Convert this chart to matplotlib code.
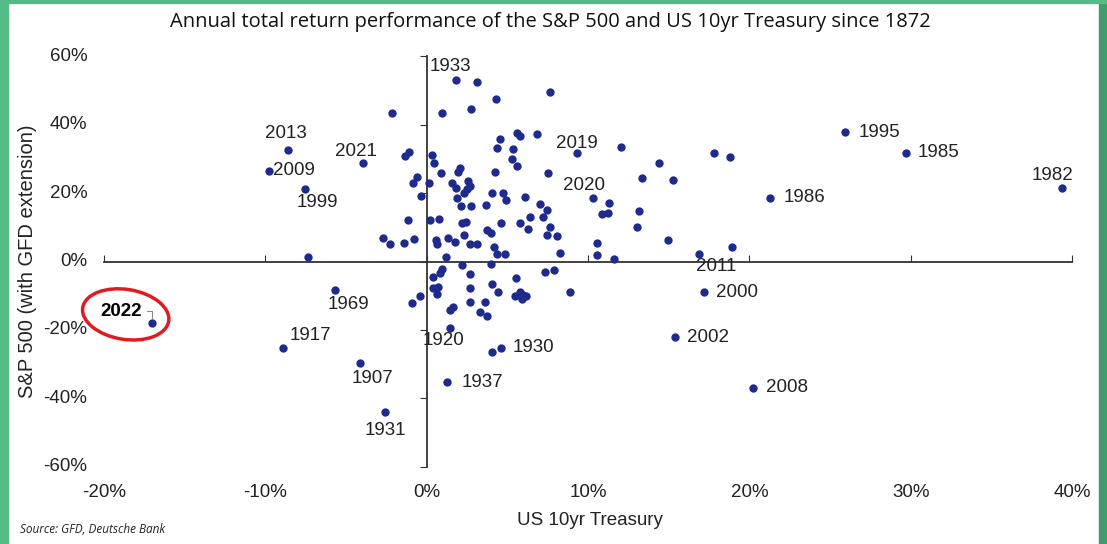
import matplotlib
matplotlib.use("Agg")
import matplotlib.pyplot as plt
from matplotlib import transforms
from matplotlib.patches import Ellipse, Rectangle

# labelled years: US 10yr Treasury total return (%) and S&P 500 total return (%)
years = ["1933", "2013", "2009", "1999", "2021", "2019", "2020", "1986", "1995",
         "1985", "1982", "2011", "2000", "2002", "2008", "2022", "1969", "1917",
         "1907", "1931", "1920", "1930", "1937"]
years_tsy = [1.80, -8.59, -9.80, -7.53, -3.96, 9.30, 10.33, 21.3, 25.96,
             29.69, 39.38, 16.85, 17.22, 15.40, 20.23, -17.04, -5.65, -8.93,
             -4.16, -2.61, 1.43, 4.58, 1.29]
years_spx = [53.1, 32.5, 26.5, 21.1, 28.9, 31.6, 18.5, 18.7, 37.8,
             31.8, 21.6, 2.2, -9.0, -22.2, -36.9, -18.1, -8.3, -25.4,
             -29.6, -43.9, -19.5, -25.2, -35.3]

# all the other years
other_tsy = [3.15, 7.64, 4.29, -2.13, 0.98, 2.78, 4.53, 5.61, 5.78, 6.81, 4.37, 5.36,
             -1.37, -1.10, 0.35, 5.32, 5.63, 0.43, 0.87, 1.97, 2.05, 4.22, 7.50,
             -0.85, -0.58, 0.12, -0.37, 1.57, 1.80, 2.57, 2.67, 2.50, 2.30, 1.88,
             2.16, 2.73, 4.08, 4.74, 4.91, 3.66, 6.11, 7.02, 7.43, 6.40, 7.19,
             -1.16, 0.19, 0.75, 2.19, 2.42, 4.58, 5.78, 6.29, 7.64, 3.75, 4.02,
             -2.71, -2.24, -1.43, -0.79, 0.60, 0.64, 1.32, 1.74, 2.32, 2.71, 3.12,
             4.18, 4.33, 4.84, 7.43, 8.06, 8.26, 1.22, -7.37,
             12.03, 17.83, 18.78, 14.43, 13.34, 15.30, 11.32, 10.85, 11.26, 13.15,
             13.02, 10.54, 14.99, 10.54, 11.63, 18.94,
             2.22, 4.02, 7.33, 7.90, 0.39, 0.81, 0.95, 2.71, 5.53, 0.39, 0.70, 0.64,
             2.67, 4.06, 4.43, 5.47, 5.78, 5.98, 6.15, 5.94, 8.88, -0.91, -0.43,
             2.67, 3.60, 1.43, 1.63, 3.29, 3.77, 4.08]
other_spx = [52.6, 49.6, 47.4, 43.5, 43.5, 44.6, 35.7, 37.5, 36.7, 37.3, 33.3, 32.9,
             30.8, 32.1, 31.1, 30.1, 27.9, 28.9, 25.8, 26.3, 27.3, 26.3, 25.8,
             22.9, 24.8, 23.0, 19.2, 23.0, 21.4, 23.6, 22.1, 21.1, 19.9, 18.5,
             16.2, 16.2, 19.9, 19.9, 18.0, 16.5, 18.8, 16.8, 15.1, 13.1, 12.9,
             12.1, 12.1, 12.4, 11.2, 11.5, 11.2, 11.3, 9.4, 10.0, 9.2, 8.2,
             6.8, 5.1, 5.3, 6.5, 6.3, 5.1, 7.0, 5.8, 7.7, 5.1, 5.0,
             4.3, 2.2, 2.2, 7.7, 7.5, 2.4, 1.4, 1.4,
             33.6, 31.8, 30.5, 28.7, 24.3, 23.8, 17.0, 13.8, 14.3, 14.8,
             10.2, 5.5, 6.3, 1.9, 0.6, 4.2,
             -1.0, -0.7, -3.0, -2.6, -4.4, -3.5, -2.3, -3.7, -4.9, -7.8, -7.4, -9.6,
             -7.8, -6.6, -8.8, -10.0, -8.8, -9.8, -10.1, -11.1, -8.8, -12.2, -10.1,
             -11.8, -11.8, -14.2, -13.4, -14.7, -15.9, -26.4]

x_ticks = [-20, -10, 0, 10, 20, 30, 40]
y_ticks = [-60, -40, -20, 0, 20, 40, 60]

# label placement: offset in pixels from the dot, horizontal alignment
label_pos = {
    "1933": (-26, 13, "left"), "2013": (-2, 17, "center"), "2009": (4, 0, "left"),
    "1999": (-9, -13, "left"), "2021": (-7, 11, "center"), "2019": (0, 10, "center"),
    "2020": (-9, 13, "center"), "1986": (13, 0, "left"), "1995": (13, 0, "left"),
    "1985": (12, 0, "left"), "1982": (-10, 12, "center"), "2011": (18, -13, "center"),
    "2000": (12, 0, "left"), "2002": (12, 0, "left"), "2008": (13, 0, "left"),
    "1969": (13, -15, "center"), "1917": (7, 13, "left"), "1907": (13, -16, "center"),
    "1931": (1, -19, "center"), "1920": (-6, -12, "center"), "1930": (12, 0, "left"),
    "1937": (14, 0, "left"),
}

dot = "#1f2b8c"
num_font = "Liberation Sans"
px = 0.72  # points per pixel at 100 dpi

fig = plt.figure(figsize=(11.07, 5.44), dpi=100)
ax = fig.add_axes([0.0939, 0.1421, 0.8745, 0.7544])
ax.set_xlim(-20, 40)
ax.set_ylim(-60, 60)

ax.scatter(other_tsy, other_spx, s=36, color=dot, zorder=3, linewidths=0)
ax.scatter(years_tsy, years_spx, s=36, color=dot, zorder=3, linewidths=0)

for yr, xv, yv in zip(years, years_tsy, years_spx):
    if yr == "2022":
        continue
    dx, dy, ha = label_pos[yr]
    ax.annotate(yr, (xv, yv), xytext=(dx * px, dy * px), textcoords="offset points",
                ha=ha, va="center", fontsize=13.5, family=num_font, color="#222222")

# 2022 highlighted
i22 = years.index("2022")
ax.annotate("2022", (years_tsy[i22], years_spx[i22]), xytext=(-10 * px, 12 * px),
            textcoords="offset points", ha="right", va="center", fontsize=13.5,
            fontweight="bold", family=num_font, color="black",
            arrowprops=dict(arrowstyle="-", color="#888888", lw=0.8,
                            connectionstyle="angle,angleA=0,angleB=90",
                            shrinkA=2, shrinkB=4))
ring_tr = fig.dpi_scale_trans + transforms.ScaledTranslation(
    years_tsy[i22], years_spx[i22], ax.transData)
ax.add_patch(Ellipse((-0.26, 0.09), 0.87, 0.50, angle=-9, transform=ring_tr,
                     fill=False, edgecolor="#e01b24", lw=2.5, zorder=4, clip_on=False))

# axes through the origin
for s in ["top", "right"]:
    ax.spines[s].set_visible(False)
ax.spines["left"].set_position(("data", 0))
ax.spines["bottom"].set_position(("data", 0))
ax.spines["left"].set_color("#333333")
ax.spines["bottom"].set_color("#333333")
ax.spines["left"].set_linewidth(1.3)
ax.spines["bottom"].set_linewidth(1.3)
ax.set_xticks(x_ticks)
ax.set_yticks(y_ticks)
ax.tick_params(axis="x", direction="in", length=5, color="#333333", labelbottom=False)
ax.tick_params(axis="y", direction="out", length=5, color="#333333", labelleft=False)

xt = transforms.blended_transform_factory(ax.transData, ax.transAxes)
for t in x_ticks:
    ax.text(t, -0.062, f"{t}%", transform=xt, ha="center", va="center",
            fontsize=13.5, family=num_font, color="#222222")
yt = transforms.blended_transform_factory(ax.transAxes, ax.transData)
for t in y_ticks:
    ax.text(-0.017, t, f"{t}%", transform=yt, ha="right", va="center",
            fontsize=13.5, family=num_font, color="#222222")

fig.text(0.497, 0.959, "Annual total return performance of the S&P 500 and US 10yr Treasury since 1872",
         ha="center", va="center", fontsize=14.5, family="Open Sans", color="#111111")
fig.text(0.533, 0.044, "US 10yr Treasury", ha="center", va="center", fontsize=13.5,
         family=num_font, color="#222222")
fig.text(0.025, 0.52, "S&P 500 (with GFD extension)", rotation=90, ha="center",
         va="center", fontsize=14.5, family=num_font, color="#222222")
fig.text(0.018, 0.026, "Source: GFD, Deutsche Bank", ha="left", va="center", fontsize=8.5,
         family="Open Sans", style="italic", color="#222222")

# green frame of the screenshot
W, H = 1107, 544
fig.patches.append(Rectangle((0, 0), 8 / W, 1, transform=fig.transFigure,
                             color="#55bb84", zorder=10))
fig.patches.append(Rectangle((1099 / W, 0), 8 / W, 1, transform=fig.transFigure,
                             color="#3f9c6c", zorder=10))
fig.patches.append(Rectangle((0, 1 - 3 / H), 1, 3 / H, transform=fig.transFigure,
                             color="#55bb84", zorder=10))

fig.savefig("out.png", dpi=100)
